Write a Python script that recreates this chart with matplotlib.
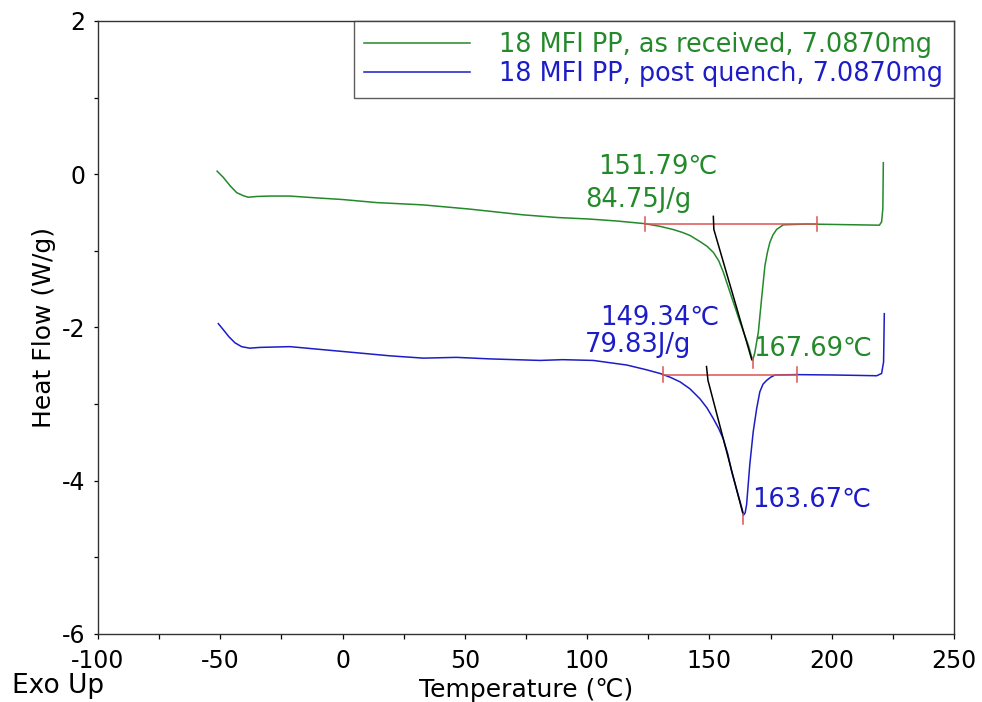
import matplotlib
matplotlib.use("Agg")
import matplotlib.pyplot as plt
from matplotlib.ticker import MultipleLocator

plt.rcParams['font.family'] = ['DejaVu Sans']
plt.rcParams['axes.unicode_minus'] = False

GREEN = '#23892a'
BLUE = '#1c1cc8'
RED = '#dc5353'

# DSC traces (temperature in C, heat flow in W/g)
t_received = [-51.3, -48.8, -46.0, -43.3, -40.6, -38.6, -35.0, -30.0, -21.5, -10.0,
              0.0, 13.9, 32.9, 52.0, 73.8, 88.0, 101.0, 112.0, 123.6, 129.8,
              135.0, 139.0, 142.1, 146.2, 149.0, 151.6, 153.8, 155.7, 158.4, 160.5,
              162.5, 164.3, 165.9, 167.2, 167.7, 168.6, 170.0, 171.3, 172.7, 173.7,
              174.7, 176.0, 177.5, 180.2, 190.0, 200.0, 210.0, 219.5, 220.4, 220.9,
              221.1]
hf_received = [0.04, -0.04, -0.15, -0.24, -0.28, -0.30, -0.29, -0.285, -0.285, -0.31,
               -0.33, -0.37, -0.40, -0.455, -0.53, -0.565, -0.585, -0.61, -0.645, -0.68,
               -0.72, -0.76, -0.80, -0.88, -0.94, -1.02, -1.13, -1.28, -1.54, -1.74,
               -1.93, -2.09, -2.23, -2.38, -2.43, -2.32, -2.06, -1.63, -1.19, -1.02,
               -0.89, -0.79, -0.72, -0.66, -0.65, -0.655, -0.66, -0.665, -0.62, -0.45,
               0.15]

t_quench = [-50.8, -49.0, -46.5, -44.0, -41.3, -38.0, -33.8, -21.5, -7.9, 5.8,
            19.4, 33.0, 46.6, 60.3, 80.7, 90.0, 102.5, 116.2, 124.0, 129.8,
            134.0, 138.0, 142.0, 146.1, 149.0, 151.6, 153.8, 155.6, 157.5, 159.1,
            161.0, 162.5, 163.6, 163.9, 164.6, 165.2, 166.5, 167.9, 169.3, 170.6,
            171.9, 173.4, 175.0, 176.8, 185.0, 200.6, 210.0, 218.4, 220.4, 221.2,
            221.5]
hf_quench = [-1.95, -2.02, -2.12, -2.20, -2.25, -2.27, -2.26, -2.25, -2.29, -2.33,
             -2.37, -2.40, -2.39, -2.41, -2.43, -2.42, -2.43, -2.49, -2.55, -2.60,
             -2.65, -2.71, -2.80, -2.93, -3.05, -3.19, -3.32, -3.45, -3.65, -3.88,
             -4.10, -4.27, -4.40, -4.45, -4.42, -4.31, -3.79, -3.36, -3.06, -2.84,
             -2.74, -2.69, -2.65, -2.62, -2.615, -2.62, -2.625, -2.63, -2.60, -2.45,
             -1.82]

# peak integration results
onset_received, enthalpy_received, peak_received = 151.79, 84.75, 167.69
onset_quench, enthalpy_quench, peak_quench = 149.34, 79.83, 163.67

# integration limits and baseline levels
limits_received = [123.7, 194.0]
base_received = -0.65
limits_quench = [130.9, 185.7]
base_quench = -2.615

# onset tangent lines
tan_received_t = [151.6, 151.8, 167.3]
tan_received_hf = [-0.55, -0.72, -2.42]
tan_quench_t = [148.8, 149.4, 163.6]
tan_quench_hf = [-2.51, -2.69, -4.42]

fig = plt.figure(figsize=(9.82, 7.02), dpi=100)
ax = fig.add_axes([0.0998, 0.0969, 0.8717, 0.8732])

ax.plot(t_received, hf_received, color=GREEN, lw=1.1,
        label='18 MFI PP, as received, 7.0870mg')
ax.plot(t_quench, hf_quench, color=BLUE, lw=1.1,
        label='18 MFI PP, post quench, 7.0870mg')

tick_h = 0.095
for lim, base in ((limits_received, base_received), (limits_quench, base_quench)):
    ax.plot(lim, [base, base], color=RED, lw=1.1)
    for x in lim:
        ax.plot([x, x], [base - tick_h, base + tick_h], color=RED, lw=1.1)

ax.plot(tan_received_t, tan_received_hf, color='black', lw=1.1)
ax.plot(tan_quench_t, tan_quench_hf, color='black', lw=1.1)

# peak markers
ax.plot([peak_received, peak_received], [-2.40, -2.53], color=RED, lw=1.1)
ax.plot([peak_quench, peak_quench], [-4.43, -4.56], color=RED, lw=1.1)

fs_note = 18.5
ax.text(104.4, 0.09, f'{onset_received:.2f}\u2103', color=GREEN, fontsize=fs_note, va='center')
ax.text(99.1, -0.33, f'{enthalpy_received:.2f}J/g', color=GREEN, fontsize=fs_note, va='center')
ax.text(105.2, -1.87, f'{onset_quench:.2f}\u2103', color=BLUE, fontsize=fs_note, va='center')
ax.text(99.1, -2.23, f'{enthalpy_quench:.2f}J/g', color=BLUE, fontsize=fs_note, va='center')
ax.text(167.8, -2.28, f'{peak_received:.2f}\u2103', color=GREEN, fontsize=fs_note, va='center')
ax.text(167.4, -4.25, f'{peak_quench:.2f}\u2103', color=BLUE, fontsize=fs_note, va='center')

ax.set_xlim(-100, 250)
ax.set_ylim(-6, 2)
ax.xaxis.set_major_locator(MultipleLocator(50))
ax.xaxis.set_minor_locator(MultipleLocator(25))
ax.yaxis.set_major_locator(MultipleLocator(2))
ax.yaxis.set_minor_locator(MultipleLocator(1))
ax.tick_params(axis='x', which='both', direction='out', length=3.5, width=0.9,
               labelsize=17, pad=7)
ax.tick_params(axis='y', which='both', direction='out', length=3, width=0.9,
               labelsize=17, pad=6)
for sp in ax.spines.values():
    sp.set_color('#333333')
    sp.set_linewidth(1.0)

ax.set_xlabel('Temperature (\u2103)', fontsize=18, labelpad=4)
ax.set_ylabel('Heat Flow (W/g)', fontsize=18, labelpad=4)
fig.text(12 / 982, 1 - 686 / 702, 'Exo Up', fontsize=19, va='center', ha='left')

leg = ax.legend(loc='upper right', borderaxespad=0, fontsize=18.4, frameon=True,
                fancybox=False, handlelength=4.15, handletextpad=1.13,
                borderpad=0.42, labelspacing=0.12, labelcolor='linecolor')
leg.get_frame().set_edgecolor('#333333')
leg.get_frame().set_linewidth(1.0)

fig.savefig('out.png', dpi=100)
